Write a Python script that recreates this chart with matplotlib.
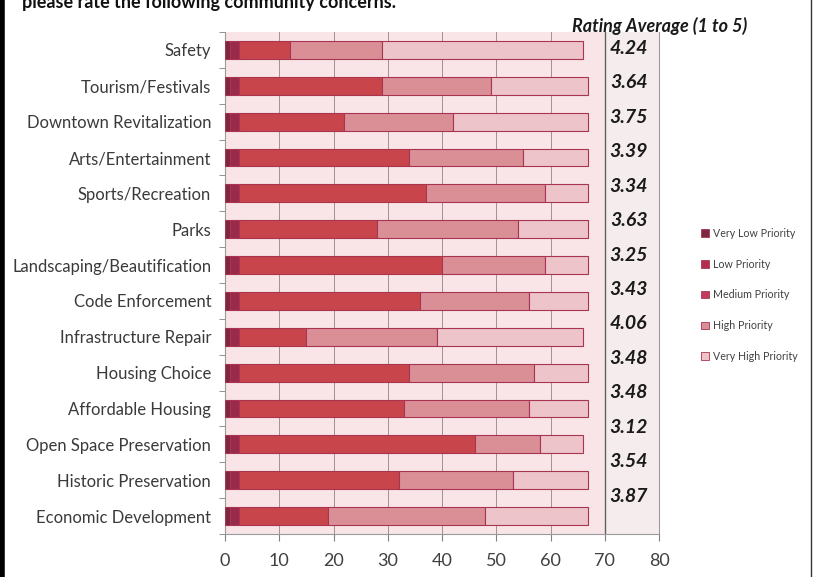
import matplotlib
matplotlib.use("Agg")
import matplotlib.pyplot as plt
from matplotlib.patches import Patch
import numpy as np

plt.rcParams['font.family'] = ['Lato', 'DejaVu Sans']

# data, top row first
concerns = ["Safety", "Tourism/Festivals", "Downtown Revitalization", "Arts/Entertainment",
            "Sports/Recreation", "Parks", "Landscaping/Beautification", "Code Enforcement",
            "Infrastructure Repair", "Housing Choice", "Affordable Housing",
            "Open Space Preservation", "Historic Preservation", "Economic Development"]
very_low = [1, 1, 1, 1, 1, 1, 1, 1, 1, 1, 1, 1, 1, 1]
low = [1.5, 1.5, 1.5, 1.5, 1.5, 1.5, 1.5, 1.5, 1.5, 1.5, 1.5, 1.5, 1.5, 1.5]
medium = [9.5, 26.5, 19.5, 31.5, 34.5, 25.5, 37.5, 33.5, 12.5, 31.5, 30.5, 43.5, 29.5, 16.5]
high = [17, 20, 20, 21, 22, 26, 19, 20, 24, 23, 23, 12, 21, 29]
very_high = [37, 18, 25, 12, 8, 13, 8, 11, 27, 10, 11, 8, 14, 19]
rating_avg = ["4.24", "3.64", "3.75", "3.39", "3.34", "3.63", "3.25", "3.43",
              "4.06", "3.48", "3.48", "3.12", "3.54", "3.87"]
series_names = ["Very Low Priority", "Low Priority", "Medium Priority", "High Priority",
                "Very High Priority"]
bar_colors = ["#7b2841", "#9a2a4a", "#c8464b", "#da8f97", "#edc4ca"]
legend_colors = ["#7b2841", "#b52b52", "#c23a5e", "#da8f97", "#edc4ca"]

fig = plt.figure(figsize=(8.13, 5.77), dpi=100)
fig.patch.set_facecolor("white")
ax = fig.add_axes([0.2768, 0.0745, 0.5338, 0.870])
ax.set_facecolor("#f9e5e8")

y = np.arange(len(concerns))
left = np.zeros(len(concerns))
for vals, col in zip([very_low, low, medium, high, very_high], bar_colors):
    ax.barh(y, vals, left=left, height=0.5, color=col, edgecolor="#a83450",
            linewidth=0.8, zorder=3)
    left = left + np.array(vals)

ax.axvspan(70, 80, color="#f4eced", zorder=1)
for gx in range(10, 70, 10):
    ax.axvline(gx, color="#a09092", linewidth=0.7, zorder=2)
ax.axvline(70, color="#606060", linewidth=1.0, zorder=2)

# rating averages, placed down the right-hand band
ty = np.linspace(-0.05, 12.45, len(rating_avg))
for yy, r in zip(ty, rating_avg):
    ax.text(74.4, yy, r, ha="center", va="center", fontsize=14,
            fontweight="bold", fontstyle="italic", color="#1a1a1a", zorder=4)

ax.set_xlim(0, 80)
ax.set_ylim(len(concerns) - 0.5, -0.5)
ax.set_xticks(range(0, 81, 10))
ax.set_yticks(y)
ax.set_yticklabels(concerns)
ax.set_yticks(np.arange(-0.5, len(concerns), 1), minor=True)
ax.tick_params(axis="y", which="major", length=0, pad=10, labelsize=12, labelcolor="#3a3a3a")
ax.tick_params(axis="y", which="minor", length=4, color="#808080", direction="out")
ax.tick_params(axis="x", length=5, color="#808080", pad=9, labelsize=13, labelcolor="#404040")
ax.spines["top"].set_visible(False)
for s in ["left", "bottom", "right"]:
    ax.spines[s].set_color("#9a9a9a")
    ax.spines[s].set_linewidth(0.8)

handles = [Patch(facecolor=c, edgecolor="#a83450", linewidth=0.6) for c in legend_colors]
fig.legend(handles, series_names, loc="upper left", bbox_to_anchor=(0.851, 0.622),
           frameon=False, fontsize=7.7, labelcolor="#404040", handlelength=0.7,
           handleheight=0.7, handletextpad=0.4, labelspacing=1.85)

fig.text(0.703, 1 - 32 / 577, "Rating Average (1 to 5)", fontsize=13, fontweight="bold",
         fontstyle="italic", color="#1a1a1a", va="baseline")
fig.text(0.027, 1 - 8 / 577, "please rate the following community concerns.", fontsize=13,
         fontweight="bold", color="#111111", va="baseline")

# page borders
fig.add_artist(plt.Line2D([0.003, 0.003], [0, 1], color="black", linewidth=4))
fig.add_artist(plt.Line2D([0.998, 0.998], [0, 1], color="#333333", linewidth=1))

fig.savefig("out.png", dpi=100)
